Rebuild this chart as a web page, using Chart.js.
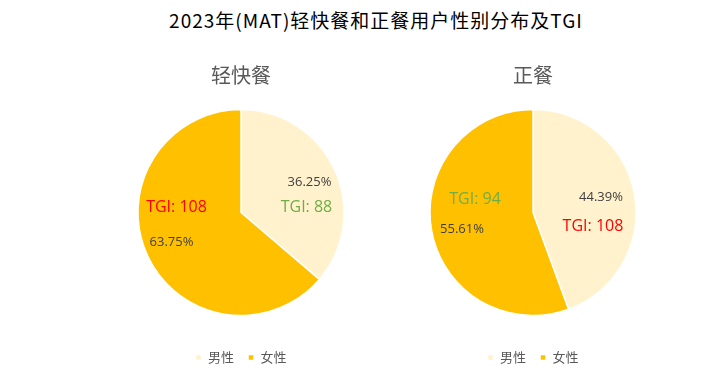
<!DOCTYPE html>
<html>
<head>
<meta charset="utf-8">
<script src="https://cdn.jsdelivr.net/npm/chart.js@4"></script>
<style>
  html, body { margin:0; padding:0; background:#fff; }
  body { width:726px; height:378px; position:relative; overflow:hidden; font-family:"Noto Sans CJK SC", sans-serif; }
  #title { position:absolute; left:0; width:752px; top:6px; text-align:center; font-size:19px; color:#000; letter-spacing:1px; font-family:"Noto Sans CJK SC", sans-serif; }
  .box { position:absolute; top:56px; width:290px; height:322px; }
  #b1 { left:96px; }
  #b2 { left:388px; }
</style>
</head>
<body>
<div id="title">2023年(MAT)轻快餐和正餐用户性别分布及TGI</div>
<div class="box" id="b1"><canvas id="c1"></canvas></div>
<div class="box" id="b2"><canvas id="c2"></canvas></div>
<script>
const genders = ['男性', '女性'];
const segmentNames = ['轻快餐', '正餐'];
const lightMealShare = [36.25, 63.75];
const fullMealShare = [44.39, 55.61];
const lightMealTGI = [88, 108];
const fullMealTGI = [108, 94];

const sliceColors = ['#FFF2CC', '#FFC000'];

const labelPlugin = {
  id: 'sliceLabels',
  afterDatasetsDraw(chart, args, opts) {
    const ctx = chart.ctx;
    const meta = chart.getDatasetMeta(0);
    const ds = chart.data.datasets[0];
    meta.data.forEach((arc, i) => {
      const p = arc.getProps(['x','y','startAngle','endAngle','outerRadius'], true);
      const mid = (p.startAngle + p.endAngle) / 2;
      const r = p.outerRadius * 0.7;
      const cx = p.x + Math.cos(mid) * r;
      const cy = p.y + Math.sin(mid) * r;
      const po = opts.pctOffsets[i];
      const to = opts.tgiOffsets[i];
      ctx.save();
      ctx.textAlign = 'center';
      ctx.textBaseline = 'middle';
      ctx.font = '13px "Open Sans", sans-serif';
      ctx.fillStyle = '#404040';
      ctx.fillText(ds.data[i].toFixed(2) + '%', cx + po[0], cy + po[1]);
      const tgi = ds.tgi[i];
      ctx.font = '16px "Open Sans", sans-serif';
      ctx.fillStyle = tgi > 100 ? '#FF0000' : '#70AD47';
      ctx.fillText('TGI: ' + tgi, cx + to[0], cy + to[1]);
      ctx.restore();
    });
  }
};

function makePie(id, name, shares, tgis, pctOffsets, tgiOffsets) {
  new Chart(document.getElementById(id), {
    type: 'pie',
    data: {
      labels: genders,
      datasets: [{
        data: shares,
        tgi: tgis,
        backgroundColor: sliceColors,
        borderColor: '#ffffff',
        borderWidth: 1.5,
        radius: 103
      }]
    },
    options: {
      responsive: true,
      maintainAspectRatio: false,
      animation: false,
      layout: { padding: { top: 0, bottom: 4, left: 0, right: 0 } },
      plugins: {
        tooltip: { enabled: false },
        title: {
          display: true,
          text: name,
          color: '#595959',
          font: { size: 20, family: '"Noto Sans CJK SC", sans-serif', weight: 'normal' },
          padding: { top: 7, bottom: 1 }
        },
        legend: {
          position: 'bottom',
          labels: {
            usePointStyle: true,
            pointStyle: 'rect',
            boxWidth: 6,
            boxHeight: 6,
            padding: 14,
            color: '#595959',
            font: { size: 13, family: '"Noto Sans CJK SC", sans-serif' }
          }
        },
        sliceLabels: { pctOffsets: pctOffsets, tgiOffsets: tgiOffsets }
      }
    },
    plugins: [labelPlugin]
  });
}

makePie('c1', segmentNames[0], lightMealShare, lightMealTGI, [[3, 0], [-4, 0]], [[0, 25], [1, -35]]);
makePie('c2', segmentNames[1], fullMealShare, fullMealTGI, [[-3, -3], [0, 4]], [[-11, 27], [13, -26]]);
</script>
</body>
</html>
